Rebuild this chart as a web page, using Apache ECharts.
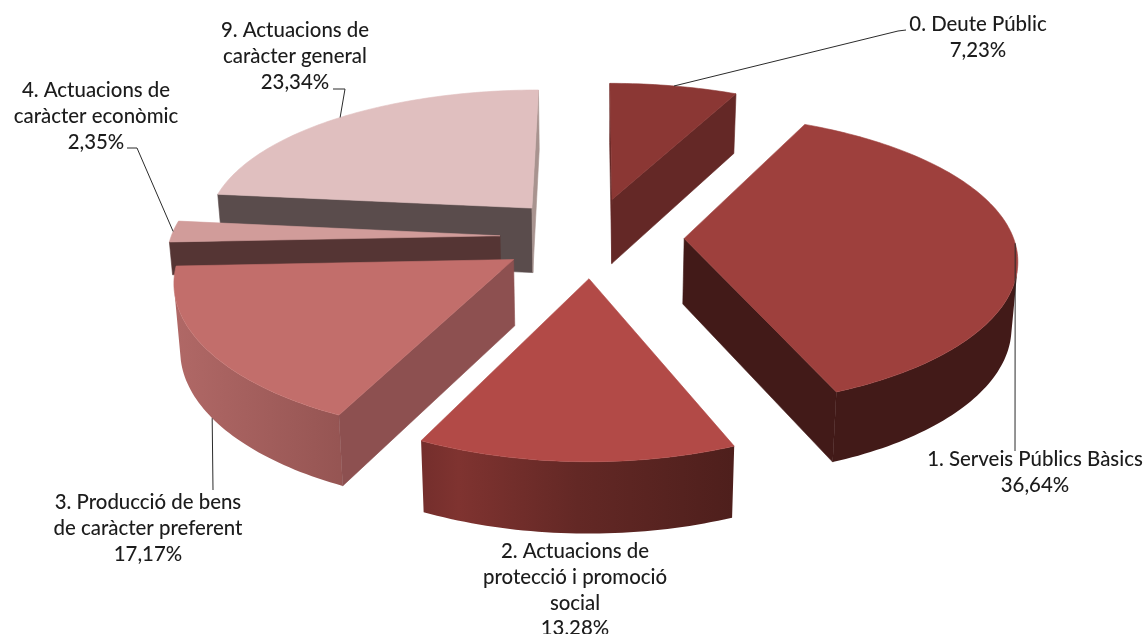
<!DOCTYPE html>
<html>
<head>
<meta charset="utf-8">
<style>html,body{margin:0;padding:0;background:#fff}#c{width:1147px;height:634px}</style>
<script src="https://cdn.jsdelivr.net/npm/echarts@6/dist/echarts.min.js"></script>
</head>
<body>
<div id="c"></div>
<script>
const categories = [
  "0. Deute Públic",
  "1. Serveis Públics Bàsics",
  "2. Actuacions de\nprotecció i promoció\nsocial",
  "3. Producció de bens\nde caràcter preferent",
  "4. Actuacions de\ncaràcter econòmic",
  "9. Actuacions de\ncaràcter general"
];
const values = [7.23, 36.64, 13.28, 17.17, 2.35, 23.34];
const valueLabels = ["7,23%", "36,64%", "13,28%", "17,17%", "2,35%", "23,34%"];

// styles
const topColors = ["#8B3734", "#9E403D", "#B24A47", "#C26E6B", "#D19C9A", "#E0BFBF"];
const cutColors = ["#642826", "#421A18", "#5A2522", "#8D5050", "#553534", "#5A4C4C"];
const endCutColors = ["#642826", "#421A18", "#5A2522", "#8D5050", "#553534", "#A8938F"];
const wallStops = [
  [[0, "#642826"], [1, "#642826"]],
  [[0, "#421A18"], [1, "#421A18"]],
  [[0, "#4E1F1C"], [0.5, "#632825"], [0.88, "#7F3330"], [1, "#742E2C"]],
  [[0, "#965553"], [1, "#B06866"]],
  [[0, "#8D5050"], [1, "#8D5050"]],
  [[0, "#5A4C4C"], [1, "#5A4C4C"]]
];
const sideScale = [1, 1, 1, 1, 0.5, 1];
const drawOrder = [0, 5, 4, 1, 3, 2];

// scene layout
const CX = 592, CY = 237, RX = 329, RY = 143, PERSP_X = 0.125, PERSP_Y = 0.145, EXPLODE = 0.28;
const DEPTH_BASE = 65.5, DEPTH_SLOPE = 5, TAPER = 0.015;
const LINE_H = 25.6;
const FONT = '500 20.4px Lato, "Open Sans", sans-serif';
const labelLayout = [
  {x: 978, y: 12},
  {x: 1035, y: 447},
  {x: 575, y: 539},
  {x: 148, y: 490},
  {x: 96, y: 78},
  {x: 295, y: 18}
];
// leader: fraction across the slice, level on the side (0 top, 1 bottom), then bend points
const leaderLayout = [
  {f: 0.5, lvl: 0, pts: [[898, 31], [906, 30]]},
  {f: 0.5, lvl: 0, pts: [[1015, 451]]},
  null,
  {f: 0.5, lvl: 1, pts: [[213, 490]]},
  {f: 0.5, lvl: 0, pts: [[137, 148], [127, 148]]},
  {f: 0.5, lvl: 0, pts: [[345, 89], [333, 89]]}
];

const total = values.reduce((a, b) => a + b, 0);
const starts = [];
values.reduce((acc, v, i) => { starts[i] = acc; return acc + v; }, 0);

function project(u, v, z) {
  const wx = 1 / (1 - PERSP_X * v), wy = 1 / (1 - PERSP_Y * v);
  return [CX + RX * u * wx * (1 - TAPER * z),
          CY + RY * v * wy + z * (DEPTH_BASE + DEPTH_SLOPE * v)];
}
function area(p) {
  let s = 0;
  for (let i = 0; i < p.length; i++) {
    const a = p[i], b = p[(i + 1) % p.length];
    s += a[0] * b[1] - b[0] * a[1];
  }
  return s;
}
function poly(points, fill, z2) {
  return {type: "polygon", z2, shape: {points},
    style: {fill, stroke: fill, lineWidth: 0.6, lineJoin: "round"}};
}

function renderItem(params, api) {
  const idx = api.value(1);
  const value = api.value(0);
  const a0 = starts[idx] / total * 2 * Math.PI;
  const a1 = (starts[idx] + value) / total * 2 * Math.PI;
  const mid = (a0 + a1) / 2;
  const ex = Math.sin(mid) * EXPLODE, ey = -Math.cos(mid) * EXPLODE;
  const zs = sideScale[idx];
  const rim = (t, z) => project(ex + Math.sin(t), ey - Math.cos(t), z * zs);
  const apex = z => project(ex, ey, z * zs);
  const children = [];
  const N = Math.max(6, Math.round((a1 - a0) / 0.02));

  // outer wall: one shape over the segments that face the viewer
  const upper = [], lower = [];
  for (let i = 0; i <= N; i++) {
    const t0 = a0 + (a1 - a0) * i / N, t1 = a0 + (a1 - a0) * Math.min(i + 1, N) / N;
    const tp = i === N ? a0 + (a1 - a0) * (N - 1) / N : t0;
    const tn = i === N ? t0 : t1;
    const q = [rim(tp, 0), rim(tn, 0), rim(tn, 1), rim(tp, 1)];
    if (area(q) < 0) { upper.push(rim(t0, 0)); lower.unshift(rim(t0, 1)); }
  }
  if (upper.length > 1) {
    const x0 = rim(a0, 0)[0], x1 = rim(a1, 0)[0];
    const grad = new echarts.graphic.LinearGradient(x0, 0, x1, 0,
      wallStops[idx].map(s => ({offset: s[0], color: s[1]})), true);
    children.push({type: "polygon", z2: 1, shape: {points: upper.concat(lower)},
      style: {fill: grad}});
  }
  // radial cut faces
  const qs = [apex(0), rim(a0, 0), rim(a0, 1), apex(1)];
  if (area(qs) < 0) children.push(poly(qs, cutColors[idx], 2));
  const qe = [apex(0), rim(a1, 0), rim(a1, 1), apex(1)];
  if (area(qe) > 0) children.push(poly(qe, endCutColors[idx], 2));
  // top face
  const topPts = [apex(0)];
  for (let i = 0; i <= N; i++) topPts.push(rim(a0 + (a1 - a0) * i / N, 0));
  children.push(poly(topPts, topColors[idx], 3));

  // leader line
  const L = leaderLayout[idx];
  if (L) {
    const st = rim(a0 + (a1 - a0) * L.f, L.lvl);
    children.push({type: "polyline", z2: 4, shape: {points: [st].concat(L.pts)},
      style: {stroke: "#2b2b2b", lineWidth: 1, fill: null}});
  }
  // label
  const lab = labelLayout[idx];
  children.push({type: "text", z2: 5, style: {
    text: categories[idx] + "\n" + valueLabels[idx],
    x: lab.x, y: lab.y, align: "center", verticalAlign: "top",
    textAlign: "center", textVerticalAlign: "top",
    font: FONT, lineHeight: LINE_H, fill: "#1c1c1c"
  }});
  return {type: "group", children};
}

const chart = echarts.init(document.getElementById("c"), null, {renderer: "canvas"});
chart.setOption({
  backgroundColor: "#ffffff",
  animation: false,
  series: [{
    type: "custom",
    coordinateSystem: "none",
    silent: true,
    renderItem,
    data: drawOrder.map(i => [values[i], i])
  }]
});
</script>
</body>
</html>
